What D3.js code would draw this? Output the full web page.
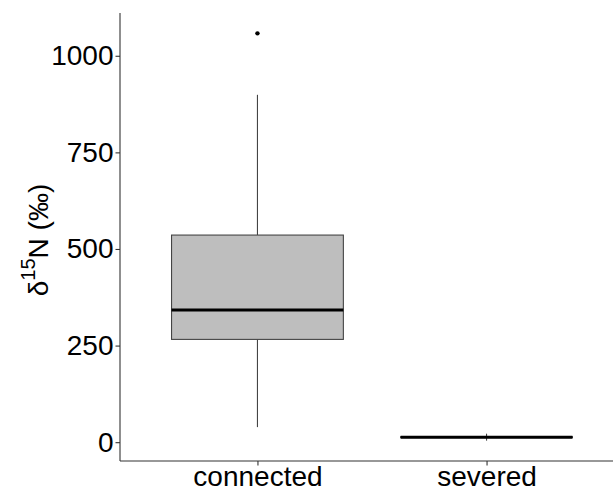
<!DOCTYPE html>
<html>
<head>
<meta charset="utf-8">
<script src="https://cdn.jsdelivr.net/npm/d3@7"></script>
<style>
  body { margin: 0; background: #fff; }
  text { font-family: "Liberation Sans", Arial, sans-serif; }
</style>
</head>
<body>
<svg id="chart"></svg>
<script>
// data (per mil)
const categories = ['connected', 'severed'];
const lowerWhisker = [39, 4];
const q1 = [266, 12];
const median = [342, 13];
const q3 = [536, 14];
const upperWhisker = [899, 22];
const outliers = [[1058], []];
const yTicks = [0, 250, 500, 750, 1000];

const width = 613;
const height = 489;
const margin = { top: 13, right: -11, bottom: 28, left: 120 };

const svg = d3.select('#chart')
  .attr('width', width)
  .attr('height', height);

const allValues = lowerWhisker.concat(upperWhisker, outliers.flat());
const lo = d3.min(allValues);
const hi = d3.max(allValues);
const pad = (hi - lo) * 0.05;

const yScale = d3.scaleLinear()
  .domain([lo - pad, hi + pad])
  .range([height - margin.bottom, margin.top]);

const xScale = d3.scalePoint()
  .domain(categories)
  .range([margin.left, width - margin.right])
  .padding(0.6);

const boxW = xScale.step() * 0.75;

const boxes = categories.map((c, i) => ({
  cat: c,
  lw: lowerWhisker[i],
  q1: q1[i],
  med: median[i],
  q3: q3[i],
  uw: upperWhisker[i],
  out: outliers[i]
}));

const g = svg.append('g');

// whiskers
g.selectAll('.whisker-up')
  .data(boxes)
  .enter()
  .append('line')
  .attr('x1', (d) => xScale(d.cat))
  .attr('x2', (d) => xScale(d.cat))
  .attr('y1', (d) => yScale(d.q3))
  .attr('y2', (d) => yScale(d.uw))
  .attr('stroke', '#444')
  .attr('stroke-width', 1.1);

g.selectAll('.whisker-down')
  .data(boxes)
  .enter()
  .append('line')
  .attr('x1', (d) => xScale(d.cat))
  .attr('x2', (d) => xScale(d.cat))
  .attr('y1', (d) => yScale(d.q1))
  .attr('y2', (d) => yScale(d.lw))
  .attr('stroke', '#444')
  .attr('stroke-width', 1.1);

// boxes
g.selectAll('rect')
  .data(boxes)
  .enter()
  .append('rect')
  .attr('x', (d) => xScale(d.cat) - boxW / 2)
  .attr('width', boxW)
  .attr('y', (d) => yScale(d.q3))
  .attr('height', (d) => yScale(d.q1) - yScale(d.q3))
  .attr('fill', '#bebebe')
  .attr('stroke', '#444')
  .attr('stroke-width', 1.1);

// medians
g.selectAll('.median')
  .data(boxes)
  .enter()
  .append('line')
  .attr('x1', (d) => xScale(d.cat) - boxW / 2)
  .attr('x2', (d) => xScale(d.cat) + boxW / 2)
  .attr('y1', (d) => yScale(d.med))
  .attr('y2', (d) => yScale(d.med))
  .attr('stroke', '#000')
  .attr('stroke-width', 3);

// outliers
g.selectAll('circle')
  .data(boxes.flatMap((d) => d.out.map((v) => ({ cat: d.cat, v }))))
  .enter()
  .append('circle')
  .attr('cx', (d) => xScale(d.cat))
  .attr('cy', (d) => yScale(d.v))
  .attr('r', 2.2)
  .attr('fill', '#000');

// axes
const yAxis = svg.append('g')
  .attr('transform', `translate(${margin.left},0)`)
  .call(d3.axisLeft(yScale).tickValues(yTicks).tickFormat(d3.format('d')).tickSize(4.5).tickPadding(2));

const xAxis = svg.append('g')
  .attr('transform', `translate(0,${height - margin.bottom})`)
  .call(d3.axisBottom(xScale).tickSize(4.5).tickPadding(1));

[yAxis, xAxis].forEach((ax) => {
  ax.select('.domain').attr('stroke', '#333').attr('stroke-width', 1.1);
  ax.selectAll('.tick line').attr('stroke', '#333').attr('stroke-width', 1.1);
  ax.selectAll('.tick text')
    .attr('fill', '#000')
    .style('font-family', '"Liberation Sans", Arial, sans-serif')
    .style('font-size', '28px');
});

// plain axis lines without end caps
yAxis.select('.domain').attr('d', `M0,${yScale.range()[0]}V${yScale.range()[1]}`);
xAxis.select('.domain').attr('d', `M${margin.left},0H${width - margin.right}`);

// y title
const title = svg.append('text')
  .attr('transform', `translate(48,${(margin.top + height - margin.bottom) / 2 + 3}) rotate(-90)`)
  .attr('text-anchor', 'middle')
  .style('font-size', '28px')
  .attr('fill', '#000');

title.append('tspan').text('δ');
title.append('tspan').attr('dy', -13).style('font-size', '20px').text('15');
title.append('tspan').attr('dy', 13).text('N (‰)');
</script>
</body>
</html>
